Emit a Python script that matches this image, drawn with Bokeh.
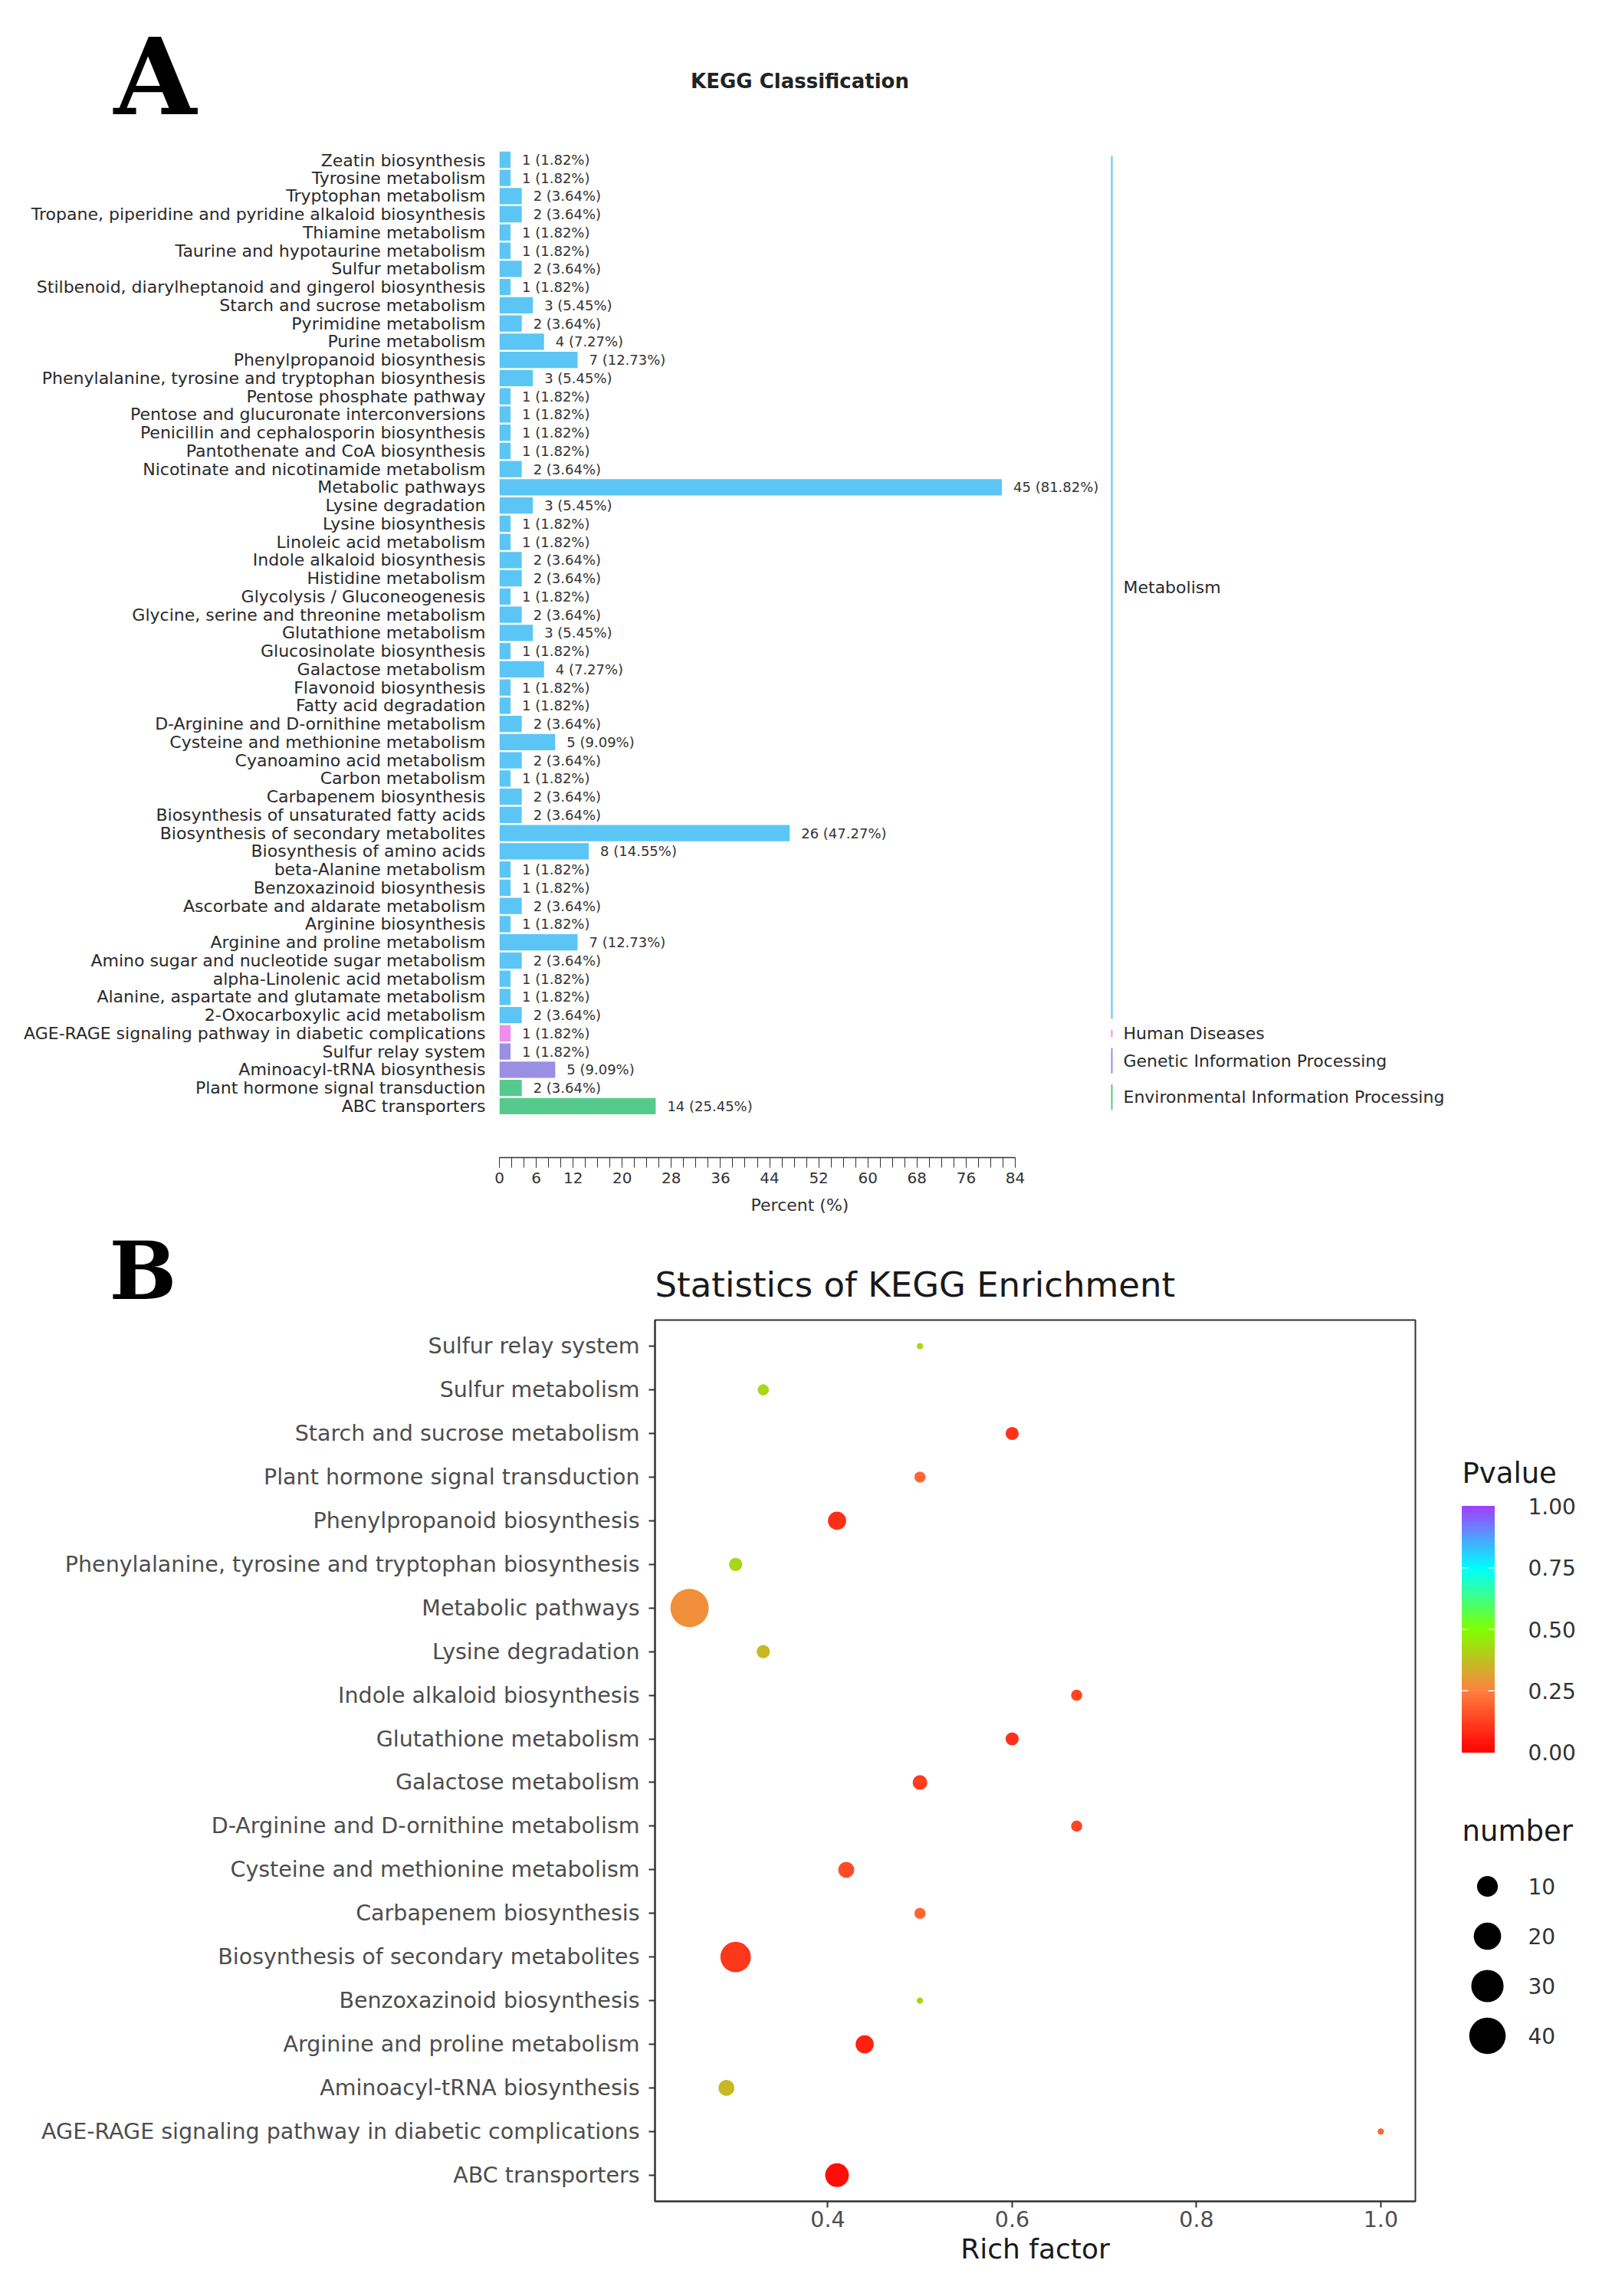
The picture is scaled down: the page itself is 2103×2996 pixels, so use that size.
import numpy as np
from bokeh.plotting import figure
from bokeh.models import (ColumnDataSource, Range1d, FixedTicker, FactorRange,
                          LinearColorMapper, PrintfTickFormatter)
from bokeh.layouts import column, row
from bokeh.transform import transform
from bokeh.core.properties import value
from bokeh.embed import file_html
from bokeh.resources import INLINE

FONT = "DejaVu Sans"
SERIF = "DejaVu Serif"

# ---------------- Panel A data ----------------
cats_a = [
    "Zeatin biosynthesis", "Tyrosine metabolism", "Tryptophan metabolism",
    "Tropane, piperidine and pyridine alkaloid biosynthesis", "Thiamine metabolism",
    "Taurine and hypotaurine metabolism", "Sulfur metabolism",
    "Stilbenoid, diarylheptanoid and gingerol biosynthesis", "Starch and sucrose metabolism",
    "Pyrimidine metabolism", "Purine metabolism", "Phenylpropanoid biosynthesis",
    "Phenylalanine, tyrosine and tryptophan biosynthesis", "Pentose phosphate pathway",
    "Pentose and glucuronate interconversions", "Penicillin and cephalosporin biosynthesis",
    "Pantothenate and CoA biosynthesis", "Nicotinate and nicotinamide metabolism",
    "Metabolic pathways", "Lysine degradation", "Lysine biosynthesis",
    "Linoleic acid metabolism", "Indole alkaloid biosynthesis", "Histidine metabolism",
    "Glycolysis / Gluconeogenesis", "Glycine, serine and threonine metabolism",
    "Glutathione metabolism", "Glucosinolate biosynthesis", "Galactose metabolism",
    "Flavonoid biosynthesis", "Fatty acid degradation",
    "D-Arginine and D-ornithine metabolism", "Cysteine and methionine metabolism",
    "Cyanoamino acid metabolism", "Carbon metabolism", "Carbapenem biosynthesis",
    "Biosynthesis of unsaturated fatty acids", "Biosynthesis of secondary metabolites",
    "Biosynthesis of amino acids", "beta-Alanine metabolism", "Benzoxazinoid biosynthesis",
    "Ascorbate and aldarate metabolism", "Arginine biosynthesis",
    "Arginine and proline metabolism", "Amino sugar and nucleotide sugar metabolism",
    "alpha-Linolenic acid metabolism", "Alanine, aspartate and glutamate metabolism",
    "2-Oxocarboxylic acid metabolism",
    "AGE-RAGE signaling pathway in diabetic complications",
    "Sulfur relay system", "Aminoacyl-tRNA biosynthesis",
    "Plant hormone signal transduction", "ABC transporters",
]
counts_a = [1, 1, 2, 2, 1, 1, 2, 1, 3, 2, 4, 7, 3, 1, 1, 1, 1, 2, 45, 3, 1, 1, 2, 2,
            1, 2, 3, 1, 4, 1, 1, 2, 5, 2, 1, 2, 2, 26, 8, 1, 1, 2, 1, 7, 2, 1, 1, 2,
            1, 1, 5, 2, 14]
pct_a = [1.82, 1.82, 3.64, 3.64, 1.82, 1.82, 3.64, 1.82, 5.45, 3.64, 7.27, 12.73, 5.45,
         1.82, 1.82, 1.82, 1.82, 3.64, 81.82, 5.45, 1.82, 1.82, 3.64, 3.64, 1.82, 3.64,
         5.45, 1.82, 7.27, 1.82, 1.82, 3.64, 9.09, 3.64, 1.82, 3.64, 3.64, 47.27, 14.55,
         1.82, 1.82, 3.64, 1.82, 12.73, 3.64, 1.82, 1.82, 3.64, 1.82, 1.82, 9.09, 3.64,
         25.45]
groups_a = (["Metabolism"] * 48 + ["Human Diseases"]
            + ["Genetic Information Processing"] * 2
            + ["Environmental Information Processing"] * 2)
group_names = ["Metabolism", "Human Diseases", "Genetic Information Processing",
               "Environmental Information Processing"]
group_colors = {"Metabolism": "#5BC6F5", "Human Diseases": "#F28CEE",
                "Genetic Information Processing": "#9A8FE2",
                "Environmental Information Processing": "#56CA8C"}
xticks_a = [0, 6, 12, 20, 28, 36, 44, 52, 60, 68, 76, 84]

# ---------------- Panel B data ----------------
cats_b = [
    "Sulfur relay system", "Sulfur metabolism", "Starch and sucrose metabolism",
    "Plant hormone signal transduction", "Phenylpropanoid biosynthesis",
    "Phenylalanine, tyrosine and tryptophan biosynthesis", "Metabolic pathways",
    "Lysine degradation", "Indole alkaloid biosynthesis", "Glutathione metabolism",
    "Galactose metabolism", "D-Arginine and D-ornithine metabolism",
    "Cysteine and methionine metabolism", "Carbapenem biosynthesis",
    "Biosynthesis of secondary metabolites", "Benzoxazinoid biosynthesis",
    "Arginine and proline metabolism", "Aminoacyl-tRNA biosynthesis",
    "AGE-RAGE signaling pathway in diabetic complications", "ABC transporters",
]
rich_b = [0.50, 0.33, 0.60, 0.50, 0.41, 0.30, 0.25, 0.33, 0.67, 0.60, 0.50, 0.67,
          0.42, 0.50, 0.30, 0.50, 0.44, 0.29, 1.00, 0.41]
number_b = [1, 2, 3, 2, 7, 3, 45, 3, 2, 3, 4, 2, 5, 2, 26, 1, 7, 5, 1, 14]
pvalue_b = [0.42, 0.42, 0.10, 0.20, 0.09, 0.42, 0.28, 0.36, 0.14, 0.10, 0.12, 0.14,
            0.15, 0.20, 0.11, 0.42, 0.07, 0.36, 0.20, 0.03]
xticks_b = [0.4, 0.6, 0.8, 1.0]
cbar_ticks = [0.0, 0.25, 0.5, 0.75, 1.0]
cbar_labels = ["0.00", "0.25", "0.50", "0.75", "1.00"]
size_legend = [10, 20, 30, 40]

# colour scale (red -> orange -> green -> cyan -> violet)
stops = [(0.0, "#FF0000"), (0.25, "#FF8040"), (0.5, "#80FF00"),
         (0.75, "#00FFFF"), (1.0, "#A040FF")]


def interp_palette(stops, n=256):
    pos = [s[0] for s in stops]
    cols = [tuple(int(s[1][i:i + 2], 16) for i in (1, 3, 5)) for s in stops]
    out = []
    for t in np.linspace(0, 1, n):
        rgb = [np.interp(t, pos, [c[k] for c in cols]) for k in range(3)]
        out.append("#%02x%02x%02x" % tuple(int(round(v)) for v in rgb))
    return out


mapper = LinearColorMapper(palette=interp_palette(stops), low=0, high=1)

# ggplot-like size scale (area palette, range 1..6 mm)
n_min, n_max = min(number_b), max(number_b)
PX_PER_MM = 8.33


def size_px(n):
    return (1 + 5 * np.sqrt((n - n_min) / (n_max - n_min))) * PX_PER_MM


TOTAL_W = 2103


def blank(width, height, xr, yr, top=0, bottom=0):
    f = figure(width=width, height=height, x_range=xr, y_range=yr,
               output_backend="svg", toolbar_location=None,
               x_axis_type=None, y_axis_type=None,
               min_border_left=0, min_border_right=0, min_border_top=top,
               min_border_bottom=bottom)
    f.outline_line_color = None
    f.grid.visible = False
    return f


# ================= Panel A header =================
HEAD_A = 196
hA = blank(TOTAL_W, HEAD_A, Range1d(0, TOTAL_W), Range1d(HEAD_A, 0))
hA.text(x=[148], y=[99], text=["A"], text_font=value(SERIF), text_font_size="139px",
        text_font_style="bold", text_color="black", text_baseline="middle",
        text_align="left")
hA.text(x=[1043], y=[105], text=["KEGG Classification"], text_font=value(FONT),
        text_font_size="26px", text_font_style="bold", text_color="#222222",
        text_baseline="middle", text_align="center")

# ================= Panel A =================
A_END = 1596
WA, HA = 1435, A_END - HEAD_A
LEFT_A = 651
FRAME_TOP_A, FRAME_BOT_A = 196, 1510
TOP_A = FRAME_TOP_A - HEAD_A
BOT_A = A_END - FRAME_BOT_A
ROW_PX = 23.75
nA = len(cats_a)
y_top = -0.5
y_bot = y_top + (FRAME_BOT_A - FRAME_TOP_A) / ROW_PX
PX_PER_PCT = 673 / 84.0
x_end = (WA - LEFT_A) / PX_PER_PCT

yrA = Range1d(y_bot, y_top)
pA = figure(width=WA, height=HA, x_range=Range1d(0, x_end), y_range=yrA,
            output_backend="svg", toolbar_location=None,
            min_border_left=LEFT_A, min_border_right=0,
            min_border_top=TOP_A, min_border_bottom=BOT_A)
pA.outline_line_color = None
pA.grid.visible = False

srcA = ColumnDataSource(dict(
    idx=list(range(nA)), pct=pct_a, cat=cats_a,
    color=[group_colors[g] for g in groups_a],
    label=["%d (%.2f%%)" % (c, p) for c, p in zip(counts_a, pct_a)],
))
pA.hbar(y="idx", left=0, right="pct", height=0.9, fill_color="color",
        line_color=None, source=srcA)
pA.text(x="pct", y="idx", text="label", x_offset=15, text_baseline="middle",
        text_align="left", text_font_size="18px", text_font=value(FONT),
        text_color="#333333", source=srcA)

pA.yaxis.ticker = FixedTicker(ticks=list(range(nA)))
pA.yaxis.major_label_overrides = {i: c for i, c in enumerate(cats_a)}
pA.yaxis.axis_line_color = None
pA.yaxis.major_tick_line_color = None
pA.yaxis.minor_tick_line_color = None
pA.yaxis.major_label_standoff = 12
pA.yaxis.major_label_text_font = FONT
pA.yaxis.major_label_text_font_size = "22px"
pA.yaxis.major_label_text_color = "#2a2a2a"

pA.xaxis.ticker = FixedTicker(ticks=xticks_a, minor_ticks=list(range(0, 85, 2)))
pA.xaxis.bounds = (0, 84)
pA.xaxis.axis_line_color = "#333333"
pA.xaxis.axis_line_width = 1.5
pA.xaxis.major_tick_line_color = "#333333"
pA.xaxis.minor_tick_line_color = "#333333"
pA.xaxis.major_tick_out = 13
pA.xaxis.major_tick_in = 0
pA.xaxis.minor_tick_out = 13
pA.xaxis.minor_tick_in = 0
pA.xaxis.major_label_text_font = FONT
pA.xaxis.major_label_text_font_size = "20px"
pA.xaxis.major_label_text_color = "#333333"
pA.xaxis.major_label_standoff = 6
pA.xaxis.axis_label = "Percent (%)"
pA.xaxis.axis_label_text_font = FONT
pA.xaxis.axis_label_text_font_size = "22px"
pA.xaxis.axis_label_text_font_style = "normal"
pA.xaxis.axis_label_text_color = "#333333"
pA.xaxis.axis_label_standoff = 13

# group strip to the right of panel A
WG = TOTAL_W - WA
pG = blank(WG, HA, Range1d(0, WG), yrA, top=TOP_A, bottom=BOT_A)
g_first, g_last = [], []
for g in group_names:
    ids = [i for i, gg in enumerate(groups_a) if gg == g]
    g_first.append(min(ids))
    g_last.append(max(ids))
srcG = ColumnDataSource(dict(
    name=group_names, color=[group_colors[g] for g in group_names],
    y0=[f - 0.2 for f in g_first], y1=[l + 0.2 for l in g_last],
    ym=[(f + l) / 2 for f, l in zip(g_first, g_last)],
    x=[15] * len(group_names), xt=[30] * len(group_names),
))
pG.segment(x0="x", x1="x", y0="y0", y1="y1", line_color="color", line_width=2,
           source=srcG)
pG.text(x="xt", y="ym", text="name", text_baseline="middle", text_align="left",
        text_font=value(FONT), text_font_size="22px", text_color="#2a2a2a",
        source=srcG)

# ================= Panel B header =================
B_TOP = 1720                      # page y where panel B plots start
HEAD_B = B_TOP - A_END
hB = blank(TOTAL_W, HEAD_B, Range1d(0, TOTAL_W), Range1d(A_END + HEAD_B, A_END))
hB.text(x=[142], y=[1658], text=["B"], text_font=value(SERIF), text_font_size="104px",
        text_font_style="bold", text_color="black", text_baseline="middle",
        text_align="left")
hB.text(x=[854], y=[1676], text=["Statistics of KEGG Enrichment"],
        text_font=value(FONT), text_font_size="45px", text_color="#1a1a1a",
        text_baseline="middle", text_align="left")

# ================= Panel B =================
TOTAL_H = 2990
WB, HB = 1860, TOTAL_H - B_TOP
LEFT_B = 854
FRAME_B_W, FRAME_B_H = 992, 1150
FRAME_TOP_B = 1722
TOP_B = FRAME_TOP_B - B_TOP
BOT_B = HB - TOP_B - FRAME_B_H
x0b, x1b = 0.2125, 1.0375
factors_b = list(reversed(cats_b))
yrB = FactorRange(factors=factors_b, range_padding=0.01)
pB = figure(width=WB, height=HB, x_range=Range1d(x0b, x1b), y_range=yrB,
            output_backend="svg", toolbar_location=None,
            min_border_left=LEFT_B, min_border_right=WB - LEFT_B - FRAME_B_W,
            min_border_top=TOP_B, min_border_bottom=BOT_B)
pB.grid.visible = False
pB.outline_line_color = "#333333"
pB.outline_line_width = 2

srcB = ColumnDataSource(dict(term=cats_b, rich=rich_b, number=number_b,
                             p=pvalue_b, size=[size_px(n) for n in number_b]))
pB.scatter(x="rich", y="term", size="size", fill_color=transform("p", mapper),
           line_color=None, source=srcB)

for ax in (pB.xaxis, pB.yaxis):
    ax.axis_line_color = "#333333"
    ax.axis_line_width = 2
    ax.major_tick_line_color = "#333333"
    ax.major_tick_line_width = 2
    ax.major_tick_out = 8
    ax.major_tick_in = 0
    ax.minor_tick_line_color = None
    ax.major_label_text_font = FONT
    ax.major_label_text_font_size = "28.5px"
    ax.major_label_text_color = "#4d4d4d"
pB.yaxis.major_label_standoff = 12
pB.xaxis.major_label_standoff = 4
pB.xaxis.ticker = FixedTicker(ticks=xticks_b)
pB.xaxis.formatter = PrintfTickFormatter(format="%.1f")
pB.xaxis.axis_label = "Rich factor"
pB.xaxis.axis_label_text_font = FONT
pB.xaxis.axis_label_text_font_size = "36px"
pB.xaxis.axis_label_text_font_style = "normal"
pB.xaxis.axis_label_text_color = "#1a1a1a"
pB.xaxis.axis_label_standoff = 5

# legend strip: its frame is aligned with pB's frame; page-pixel coordinates
WL = TOTAL_W - WB
fr_top = FRAME_TOP_B
fr_bot = fr_top + FRAME_B_H
pL = blank(WL, HB, Range1d(WB, TOTAL_W), Range1d(fr_bot, fr_top),
           top=TOP_B, bottom=BOT_B)

BAR_L, BAR_R, BAR_T, BAR_B = 1907, 1949, 1965, 2286
bar_h = BAR_B - BAR_T
steps = np.linspace(0, 1, 121)
srcC = ColumnDataSource(dict(
    top=[BAR_B - v1 * bar_h for v1 in steps[1:]],
    bottom=[BAR_B - v0 * bar_h for v0 in steps[:-1]],
    pv=[(a + b) / 2 for a, b in zip(steps[:-1], steps[1:])],
))
pL.quad(left=BAR_L, right=BAR_R, top="top", bottom="bottom",
        fill_color=transform("pv", mapper), line_color=transform("pv", mapper),
        line_width=1, source=srcC)
tick_y = [BAR_B - t * bar_h for t in cbar_ticks]
inner = [t for t in cbar_ticks if 0 < t < 1]
iy = [BAR_B - t * bar_h for t in inner]
pL.segment(x0=[BAR_L] * len(iy), x1=[BAR_L + 8] * len(iy), y0=iy, y1=iy,
           line_color="white", line_width=1.5)
pL.segment(x0=[BAR_R - 8] * len(iy), x1=[BAR_R] * len(iy), y0=iy, y1=iy,
           line_color="white", line_width=1.5)
pL.text(x=[1993] * len(tick_y), y=tick_y, text=cbar_labels, text_baseline="middle",
        text_align="left", text_font=value(FONT), text_font_size="28px",
        text_color="#333333")
pL.text(x=[1907], y=[1922], text=["Pvalue"], text_baseline="middle", text_align="left",
        text_font=value(FONT), text_font_size="37px", text_color="#1a1a1a")
pL.text(x=[1907], y=[2389], text=["number"], text_baseline="middle", text_align="left",
        text_font=value(FONT), text_font_size="37px", text_color="#1a1a1a")
leg_y = [2461 + 65 * i for i in range(len(size_legend))]
pL.scatter(x=[1940] * len(size_legend), y=leg_y,
           size=[size_px(s) for s in size_legend], fill_color="black",
           line_color=None)
pL.text(x=[1993] * len(size_legend), y=leg_y, text=[str(s) for s in size_legend],
        text_baseline="middle", text_align="left", text_font=value(FONT),
        text_font_size="28px", text_color="#333333")

layout = column(hA, row(pA, pG), hB, row(pB, pL))
open("out.html", "w").write(file_html(layout, INLINE))
